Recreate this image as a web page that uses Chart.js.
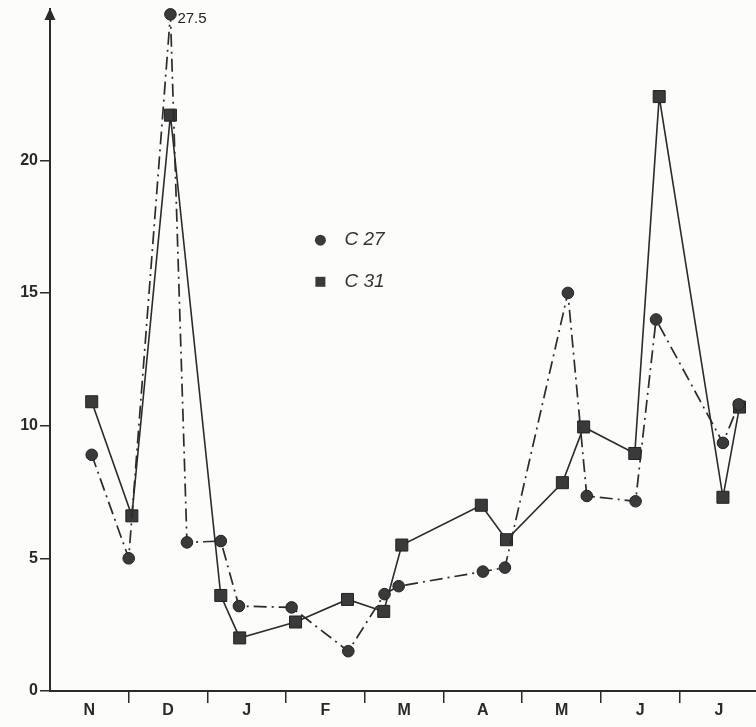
<!DOCTYPE html>
<html>
<head>
<meta charset="utf-8">
<script src="https://cdn.jsdelivr.net/npm/chart.js@4.4.1/dist/chart.umd.min.js"></script>
<style>
  html, body { margin: 0; padding: 0; background: #fcfcfb; overflow: hidden; }
  #wrap { width: 756px; height: 727px; position: relative; }
</style>
</head>
<body>
<div id="wrap"><canvas id="c"></canvas></div>
<script>
// ---- data (x = months since 1 November) ----
const MONTH_LABELS = ['N', 'D', 'J', 'F', 'M', 'A', 'M', 'J', 'J'];
const Y_TICKS = [0, 5, 10, 15, 20];

const C27_MONTH = [0.53, 1.00, 1.53, 1.74, 2.17, 2.40, 3.07, 3.79, 4.25, 4.43, 5.50, 5.78, 6.58, 6.82, 7.44, 7.70, 8.55, 8.75];
const C27_VALUE = [8.9, 5.0, 27.5, 5.6, 5.65, 3.2, 3.15, 1.5, 3.65, 3.95, 4.5, 4.65, 15.0, 7.35, 7.15, 14.0, 9.35, 10.8];

const C31_MONTH = [0.53, 1.04, 1.53, 2.17, 2.41, 3.12, 3.78, 4.24, 4.47, 5.48, 5.80, 6.51, 6.78, 7.43, 7.74, 8.55, 8.76];
const C31_VALUE = [10.9, 6.6, 21.7, 3.6, 2.0, 2.6, 3.45, 3.0, 5.5, 7.0, 5.7, 7.85, 9.95, 8.95, 22.4, 7.3, 10.7];

const SERIES_NAMES = ['C 27', 'C 31'];

// axis range; values above Y_CAP are drawn at the top of the axis with their true value written beside
const X_MAX = 8.97;
const Y_MAX = 25.7;
const Y_CAP = 25.5;

const INK = '#2b2b2b';
const FONT = '"Liberation Sans", Arial, sans-serif';

function toPoints(xs, ys) {
  return xs.map((x, i) => ({ x: x, y: Math.min(ys[i], Y_CAP), real: ys[i] }));
}

const overlayPlugin = {
  id: 'overlay',
  afterDraw(chart) {
    const ctx = chart.ctx;
    const ca = chart.chartArea;
    ctx.save();
    // arrow on top of y axis
    ctx.fillStyle = INK;
    ctx.beginPath();
    ctx.moveTo(ca.left, ca.top - 1);
    ctx.lineTo(ca.left - 5.5, ca.top + 11);
    ctx.lineTo(ca.left + 5.5, ca.top + 11);
    ctx.closePath();
    ctx.fill();

    // true value labels for points beyond the axis
    ctx.font = '15px ' + FONT;
    ctx.textBaseline = 'middle';
    ctx.textAlign = 'left';
    ctx.fillStyle = '#1c1c1c';
    chart.data.datasets.forEach((ds, di) => {
      const meta = chart.getDatasetMeta(di);
      ds.data.forEach((p, i) => {
        if (p.real > Y_CAP) {
          const el = meta.data[i];
          ctx.fillText(String(p.real), el.x + 7, el.y + 5);
        }
      });
    });

    // legend
    const lx = ca.left + 0.383 * (ca.right - ca.left);
    const rows = [ca.top + 0.339 * (ca.bottom - ca.top), ca.top + 0.4 * (ca.bottom - ca.top)];
    ctx.font = 'italic 19px ' + FONT;
    chart.data.datasets.forEach((ds, di) => {
      const y = rows[di];
      ctx.fillStyle = ds.pointBackgroundColor;
      ctx.beginPath();
      if (ds.pointStyle === 'rect') {
        ctx.rect(lx - 5, y - 5, 10, 10);
      } else {
        ctx.arc(lx, y, 5.5, 0, Math.PI * 2);
      }
      ctx.fill();
      ctx.fillStyle = '#333';
      ctx.fillText(ds.label, lx + 24, y);
    });
    ctx.restore();
  }
};

new Chart(document.getElementById('c'), {
  type: 'scatter',
  data: {
    datasets: [
      {
        label: SERIES_NAMES[0],
        data: toPoints(C27_MONTH, C27_VALUE),
        showLine: true,
        borderColor: INK,
        borderWidth: 1.7,
        borderDash: [13, 5, 2, 5],
        pointStyle: 'circle',
        pointRadius: 5.8,
        pointBackgroundColor: '#3a3a3a',
        pointBorderColor: '#222',
        pointBorderWidth: 1,
        clip: false
      },
      {
        label: SERIES_NAMES[1],
        data: toPoints(C31_MONTH, C31_VALUE),
        showLine: true,
        borderColor: INK,
        borderWidth: 1.6,
        pointStyle: 'rect',
        pointRadius: 8.5,
        pointBackgroundColor: '#3a3a3a',
        pointBorderColor: '#222',
        pointBorderWidth: 1,
        clip: false
      }
    ]
  },
  options: {
    responsive: true,
    maintainAspectRatio: false,
    animation: false,
    layout: { autoPadding: false, padding: { top: 9, right: 0, left: 0, bottom: 0 } },
    plugins: {
      legend: { display: false },
      tooltip: { enabled: false }
    },
    scales: {
      x: {
        type: 'linear',
        min: 0,
        max: X_MAX,
        afterBuildTicks(scale) {
          const t = [];
          for (let i = 0; i < MONTH_LABELS.length; i++) {
            t.push({ value: i + 0.5 });
            if (i > 0) t.push({ value: i });
          }
          t.sort((a, b) => a.value - b.value);
          scale.ticks = t;
        },
        afterFit(scale) {
          scale.height = 36;
          scale.paddingLeft = 0;
          scale.paddingRight = 0;
        },
        border: { display: true, color: INK, width: 2 },
        grid: {
          drawOnChartArea: false,
          drawTicks: true,
          tickLength: 12,
          lineWidth: 1.5,
          color: (c) => (c.tick && Number.isInteger(c.tick.value)) ? INK : 'rgba(0,0,0,0)'
        },
        ticks: {
          autoSkip: false,
          maxRotation: 0,
          padding: -2,
          color: '#2a2a2a',
          font: { family: FONT, size: 16, weight: 'bold' },
          callback: (v) => Number.isInteger(v) ? '' : MONTH_LABELS[Math.floor(v)]
        }
      },
      y: {
        type: 'linear',
        min: 0,
        max: Y_MAX,
        afterBuildTicks(scale) { scale.ticks = Y_TICKS.map(v => ({ value: v })); },
        afterFit(scale) {
          scale.width = 50;
          scale.paddingTop = 0;
          scale.paddingBottom = 0;
        },
        border: { display: true, color: INK, width: 2 },
        grid: {
          drawOnChartArea: false,
          drawTicks: true,
          tickLength: 10,
          lineWidth: 1.5,
          color: INK
        },
        ticks: {
          padding: 2,
          color: '#2a2a2a',
          font: { family: FONT, size: 16, weight: 'bold' }
        }
      }
    }
  },
  plugins: [overlayPlugin]
});
</script>
</body>
</html>
